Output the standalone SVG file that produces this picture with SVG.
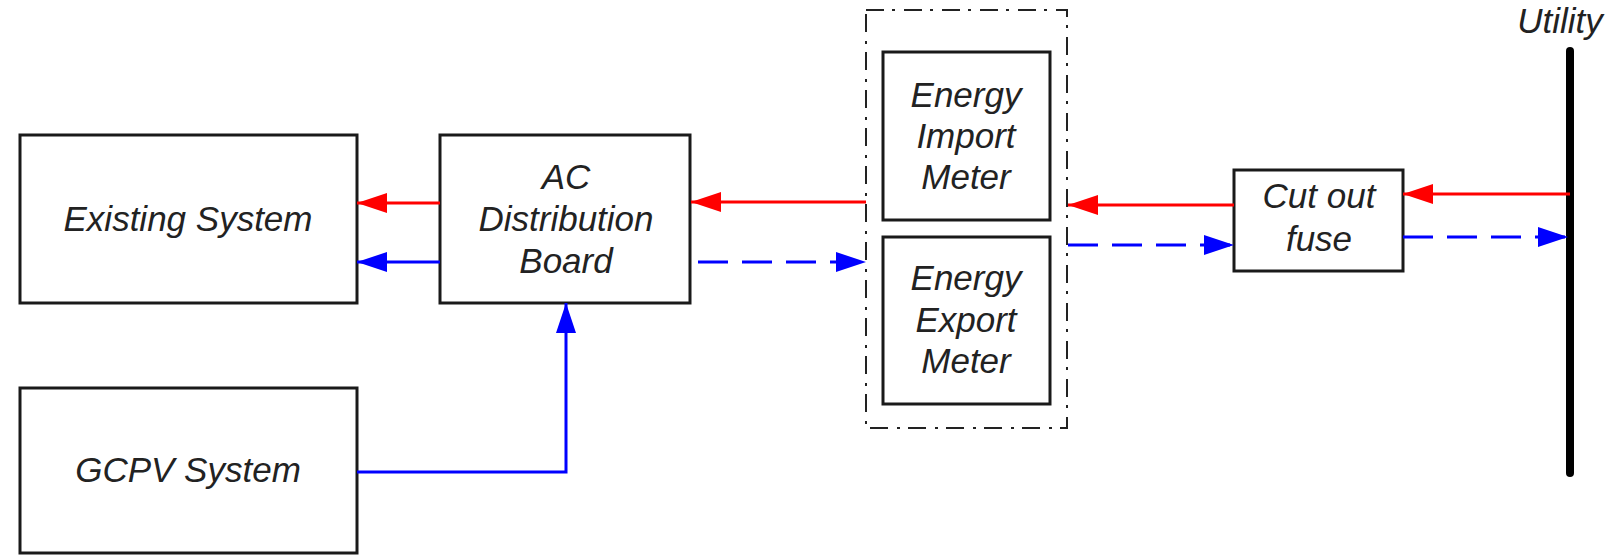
<svg xmlns="http://www.w3.org/2000/svg" width="1613" height="555" viewBox="0 0 1613 555">
<style>
.box{fill:#fff;stroke:#1a1a1a;stroke-width:3}
.t{font-family:"Liberation Sans",Arial,sans-serif;font-style:italic;font-size:35px;fill:#222;text-anchor:middle}
.red{stroke:#ff0000;stroke-width:3;fill:none}
.blue{stroke:#0000ff;stroke-width:3;fill:none}
.dash{stroke-dasharray:30 14}
</style>
<defs>
<marker id="ar" markerWidth="30" markerHeight="20" refX="30" refY="10" orient="auto" markerUnits="userSpaceOnUse"><path d="M0,0 L30,10 L0,20 Z" fill="#ff0000"/></marker>
<marker id="ab" markerWidth="30" markerHeight="20" refX="30" refY="10" orient="auto" markerUnits="userSpaceOnUse"><path d="M0,0 L30,10 L0,20 Z" fill="#0000ff"/></marker>
</defs>
<g id="meters-container"><rect x="866" y="10" width="201" height="418" fill="none" stroke="#222" stroke-width="2" stroke-dasharray="18 8 3 9"/></g>
<g id="existing"><rect class="box" x="20" y="135" width="337" height="168"/><text class="t" x="188" y="231">Existing System</text></g>
<g id="acdb"><rect class="box" x="440" y="135" width="250" height="168"/><text class="t" x="566" y="189">AC</text><text class="t" x="566" y="231">Distribution</text><text class="t" x="566" y="273">Board</text></g>
<g id="gcpv"><rect class="box" x="20" y="388" width="337" height="165"/><text class="t" x="188" y="482">GCPV System</text></g>
<g id="import"><rect class="box" x="883" y="52" width="167" height="168"/><text class="t" x="966" y="107">Energy</text><text class="t" x="966" y="148">Import</text><text class="t" x="966" y="189">Meter</text></g>
<g id="export"><rect class="box" x="883" y="237" width="167" height="167"/><text class="t" x="966" y="290">Energy</text><text class="t" x="966" y="332">Export</text><text class="t" x="966" y="373">Meter</text></g>
<g id="fuse"><rect class="box" x="1234" y="170" width="169" height="101"/><text class="t" x="1319" y="208">Cut out</text><text class="t" x="1319" y="251">fuse</text></g>
<g id="utility"><line x1="1570" y1="51" x2="1570" y2="473" stroke="#000" stroke-width="8" stroke-linecap="round"/><text class="t" x="1560" y="33">Utility</text></g>
<g id="connectors">
<line class="red" x1="440" y1="203" x2="357" y2="203" marker-end="url(#ar)"/>
<line class="blue" x1="440" y1="262" x2="357" y2="262" marker-end="url(#ab)"/>
<line class="red" x1="866" y1="202" x2="691" y2="202" marker-end="url(#ar)"/>
<line class="blue dash" x1="698" y1="262" x2="866" y2="262" marker-end="url(#ab)"/>
<line class="red" x1="1234" y1="205" x2="1068" y2="205" marker-end="url(#ar)"/>
<line class="blue dash" x1="1068" y1="245" x2="1234" y2="245" marker-end="url(#ab)"/>
<line class="red" x1="1570" y1="194" x2="1403" y2="194" marker-end="url(#ar)"/>
<line class="blue dash" x1="1403" y1="237" x2="1568" y2="237" marker-end="url(#ab)"/>
<polyline class="blue" points="357,472 566,472 566,303" marker-end="url(#ab)"/>
</g>
</svg>
